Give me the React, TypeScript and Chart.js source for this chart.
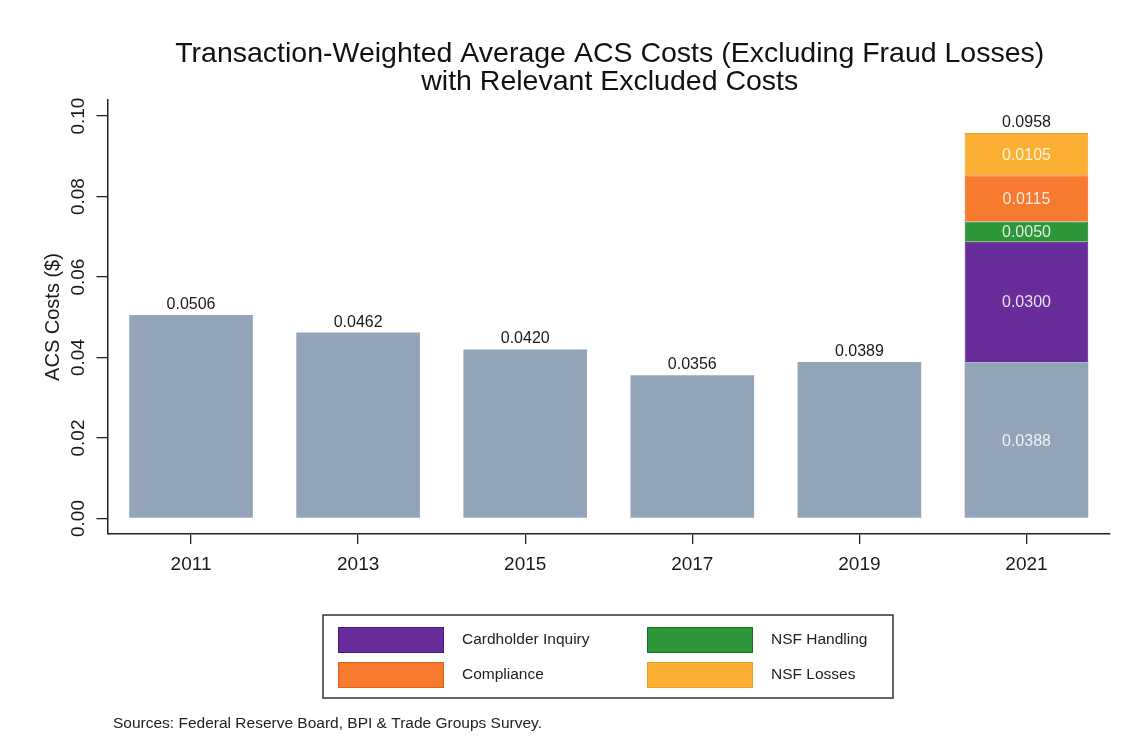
import React, { useEffect, useRef } from "react";
import { Chart, registerables } from "chart.js";

Chart.register(...registerables);

const years = ["2011", "2013", "2015", "2017", "2019", "2021"];
const acsCosts = [0.0506, 0.0462, 0.042, 0.0356, 0.0389, 0.0388];
const cardholderInquiry = [null, null, null, null, null, 0.03];
const nsfHandling = [null, null, null, null, null, 0.005];
const compliance = [null, null, null, null, null, 0.0115];
const nsfLosses = [null, null, null, null, null, 0.0105];
const yTickValues = [0, 0.02, 0.04, 0.06, 0.08, 0.1];

const titleLines = [
  "Transaction-Weighted Average ACS Costs (Excluding Fraud Losses)",
  "with Relevant Excluded Costs",
];
const yAxisTitle = "ACS Costs ($)";
const sourceText = "Sources: Federal Reserve Board, BPI & Trade Groups Survey.";

const FONT = '"Liberation Sans", Arial, Helvetica, sans-serif';

const valueLabels = {
  id: "valueLabels",
  afterDatasetsDraw(chart: any) {
    const ctx = chart.ctx;
    ctx.save();
    ctx.font = `16px ${FONT}`;
    ctx.textAlign = "center";
    const n = chart.data.labels.length;
    for (let i = 0; i < n; i++) {
      const segs: any[] = [];
      chart.data.datasets.forEach((ds: any, d: number) => {
        const v = ds.data[i];
        if (v == null) return;
        const el = chart.getDatasetMeta(d).data[i];
        segs.push({ v, el });
      });
      if (!segs.length) continue;
      const total = segs.reduce((a, s) => a + s.v, 0);
      if (segs.length > 1) {
        segs.forEach((s) => {
          ctx.fillStyle = "rgba(255,255,255,0.85)";
          ctx.textBaseline = "middle";
          ctx.fillText(s.v.toFixed(4), s.el.x, (s.el.y + s.el.base) / 2 + 1);
        });
      }
      const top = segs[segs.length - 1].el;
      ctx.fillStyle = "#1a1a1a";
      ctx.textBaseline = "alphabetic";
      ctx.fillText(total.toFixed(4), top.x, top.y - 6);
    }
    ctx.restore();
  },
};

const decorations = {
  id: "decorations",
  afterDraw(chart: any) {
    const ctx = chart.ctx;
    const area = chart.chartArea;
    const cx = (area.left + area.right) / 2 + 1;
    ctx.save();
    // title
    ctx.fillStyle = "#111";
    ctx.textAlign = "center";
    ctx.textBaseline = "alphabetic";
    ctx.font = `28.5px ${FONT}`;
    ctx.fillText(titleLines[0], cx, 62);
    ctx.fillText(titleLines[1], cx, 90);

    // legend
    const items = chart.data.datasets.slice(1);
    const bx = 323, by = 615, bw = 570, bh = 83;
    ctx.strokeStyle = "#333";
    ctx.lineWidth = 1.5;
    ctx.strokeRect(bx, by, bw, bh);
    ctx.font = `15.5px ${FONT}`;
    ctx.textAlign = "left";
    ctx.textBaseline = "middle";
    items.forEach((ds: any, i: number) => {
      const col = i % 2;
      const row = Math.floor(i / 2);
      const sx = 338 + col * 309;
      const sy = 627 + row * 35;
      ctx.fillStyle = ds.backgroundColor;
      ctx.fillRect(sx, sy, 106, 26);
      ctx.strokeStyle = ds.borderColor;
      ctx.lineWidth = 1;
      ctx.strokeRect(sx + 0.5, sy + 0.5, 105, 25);
      ctx.fillStyle = "#222";
      ctx.fillText(ds.label, sx + 124, sy + 13);
    });

    // source
    ctx.font = `15.5px ${FONT}`;
    ctx.fillStyle = "#222";
    ctx.textBaseline = "alphabetic";
    ctx.fillText(sourceText, 113, 728);
    ctx.restore();
  },
};

export default function App() {
  const ref = useRef<HTMLCanvasElement>(null);
  useEffect(() => {
    if (!ref.current) return;
    const chart = new Chart(ref.current, {
      type: "bar",
      data: {
        labels: years,
        datasets: [
          {
            label: "ACS Costs",
            data: acsCosts,
            backgroundColor: "#93a4b9",
            borderColor: "#93a4b9",
            borderWidth: 0,
          },
          {
            label: "Cardholder Inquiry",
            data: cardholderInquiry,
            backgroundColor: "#682c9b",
            borderColor: "#4a1a73",
            borderWidth: 1,
          },
          {
            label: "NSF Handling",
            data: nsfHandling,
            backgroundColor: "#2c9638",
            borderColor: "#1f6e28",
            borderWidth: 1,
          },
          {
            label: "Compliance",
            data: compliance,
            backgroundColor: "#f77a2e",
            borderColor: "#e0601a",
            borderWidth: 1,
          },
          {
            label: "NSF Losses",
            data: nsfLosses,
            backgroundColor: "#fbb034",
            borderColor: "#eba020",
            borderWidth: 1,
          },
        ] as any,
      },
      options: {
        responsive: false,
        animation: false,
        devicePixelRatio: 1,
        layout: { padding: { top: 100, bottom: 172, left: 0, right: 23 } },
        datasets: {
          bar: { categoryPercentage: 1, barPercentage: 0.74 },
        } as any,
        plugins: {
          legend: { display: false },
          title: { display: false },
          tooltip: { enabled: false },
        },
        scales: {
          x: {
            stacked: true,
            afterFit: (s: any) => {
              s.height = 50;
            },
            grid: {
              display: true,
              drawOnChartArea: false,
              drawTicks: true,
              offset: false,
              tickLength: 10,
              color: "#222",
              lineWidth: 1.3,
            },
            border: { display: true, color: "#222", width: 1.5 },
            ticks: {
              color: "#1a1a1a",
              font: { family: FONT, size: 19 },
              padding: 9,
            },
          },
          y: {
            stacked: true,
            min: -0.00385,
            max: 0.104,
            afterFit: (s: any) => {
              s.width = 107.5;
            },
            afterBuildTicks: (s: any) => {
              s.ticks = yTickValues.map((v) => ({ value: v }));
            },
            grid: {
              display: true,
              drawOnChartArea: false,
              drawTicks: true,
              tickLength: 11,
              color: "#222",
              lineWidth: 1.3,
            },
            border: { display: true, color: "#222", width: 1.5 },
            ticks: {
              autoSkip: false,
              minRotation: 90,
              maxRotation: 90,
              crossAlign: "center",
              padding: -1,
              color: "#1a1a1a",
              font: { family: FONT, size: 19 },
              callback: (v: any) => Number(v).toFixed(2),
            },
            title: {
              display: true,
              text: yAxisTitle,
              color: "#1a1a1a",
              font: { family: FONT, size: 20 },
              padding: { top: 41, bottom: 0 },
            },
          },
        },
      },
      plugins: [valueLabels, decorations],
    });
    return () => chart.destroy();
  }, []);
  return (
    <div style={{ position: "absolute", left: 0, top: 0, width: 1133, height: 756, background: "#fff" }}>
      <canvas ref={ref} width={1133} height={756} />
    </div>
  );
}
